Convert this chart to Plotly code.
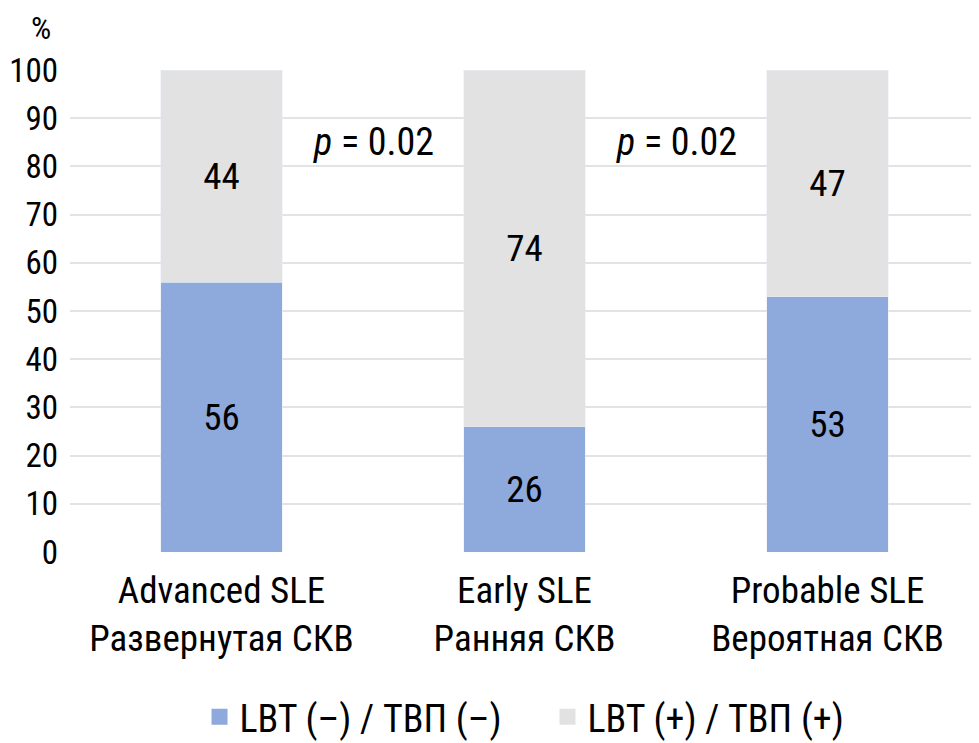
import plotly.graph_objects as go

categories = ["Advanced SLE<br>Развернутая СКВ", "Early SLE<br>Ранняя СКВ", "Probable SLE<br>Вероятная СКВ"]
neg_values = [56, 26, 53]
pos_values = [44, 74, 47]
neg_name = "LBT (–) / ТВП (–)"
pos_name = "LBT (+) / ТВП (+)"
p_labels = ["<i>p</i> = 0.02", "<i>p</i> = 0.02"]
y_ticks = list(range(0, 101, 10))

FONT = "Roboto Condensed"
NEG_COLOR = "#8EA9DB"
POS_COLOR = "#E2E2E2"

fig = go.Figure()
fig.add_trace(go.Bar(x=[0, 1, 2], y=neg_values, name=neg_name, marker_color=NEG_COLOR,
                     text=neg_values, textposition="inside", insidetextanchor="middle",
                     textfont=dict(size=37, color="black"), hoverinfo="skip", showlegend=False))
fig.add_trace(go.Bar(x=[0, 1, 2], y=pos_values, name=pos_name, marker_color=POS_COLOR,
                     text=pos_values, textposition="inside", insidetextanchor="middle",
                     textfont=dict(size=37, color="black"), hoverinfo="skip", showlegend=False))
# legend entries with larger square swatches
for name, col in [(neg_name, NEG_COLOR), (pos_name, POS_COLOR)]:
    fig.add_trace(go.Scatter(x=[None], y=[None], mode="markers", name=name,
                             marker=dict(symbol="square", size=25, color=col)))

for i, t in enumerate(p_labels):
    fig.add_annotation(x=i + 0.5, y=85, text=t, showarrow=False, xref="x", yref="y",
                       font=dict(size=38, color="black"))

fig.add_annotation(x=-0.032, y=1.087, xref="paper", yref="paper", text="%", showarrow=False,
                   xanchor="center", yanchor="middle", borderpad=0,
                   font=dict(size=32, color="black"))

fig.update_layout(
    barmode="stack",
    bargap=0.6,
    width=971, height=735,
    margin=dict(l=62, r=0, t=62, b=191),
    paper_bgcolor="white", plot_bgcolor="white",
    font=dict(family=FONT, size=36, color="black"),
    showlegend=True,
    legend=dict(orientation="h", x=0.1425, xanchor="left", xref="paper",
                y=0.0354, yanchor="middle", yref="container",
                font=dict(size=38), traceorder="normal", itemsizing="trace",
                entrywidth=303, entrywidthmode="pixels"),
)
fig.update_xaxes(tickmode="array", tickvals=[0, 1, 2], ticktext=categories,
                 range=[-0.5, 2.5], showgrid=False, zeroline=False, showline=False,
                 ticks="", tickfont=dict(size=37), ticklabelstandoff=13, automargin=False)
fig.update_yaxes(range=[0, 100], tickvals=y_ticks, showgrid=True, gridcolor="#E3E3E3",
                 gridwidth=2, zeroline=False, showline=False, ticks="",
                 tickfont=dict(size=33), ticklabelstandoff=11, automargin=False)

fig.write_html("out.html")
